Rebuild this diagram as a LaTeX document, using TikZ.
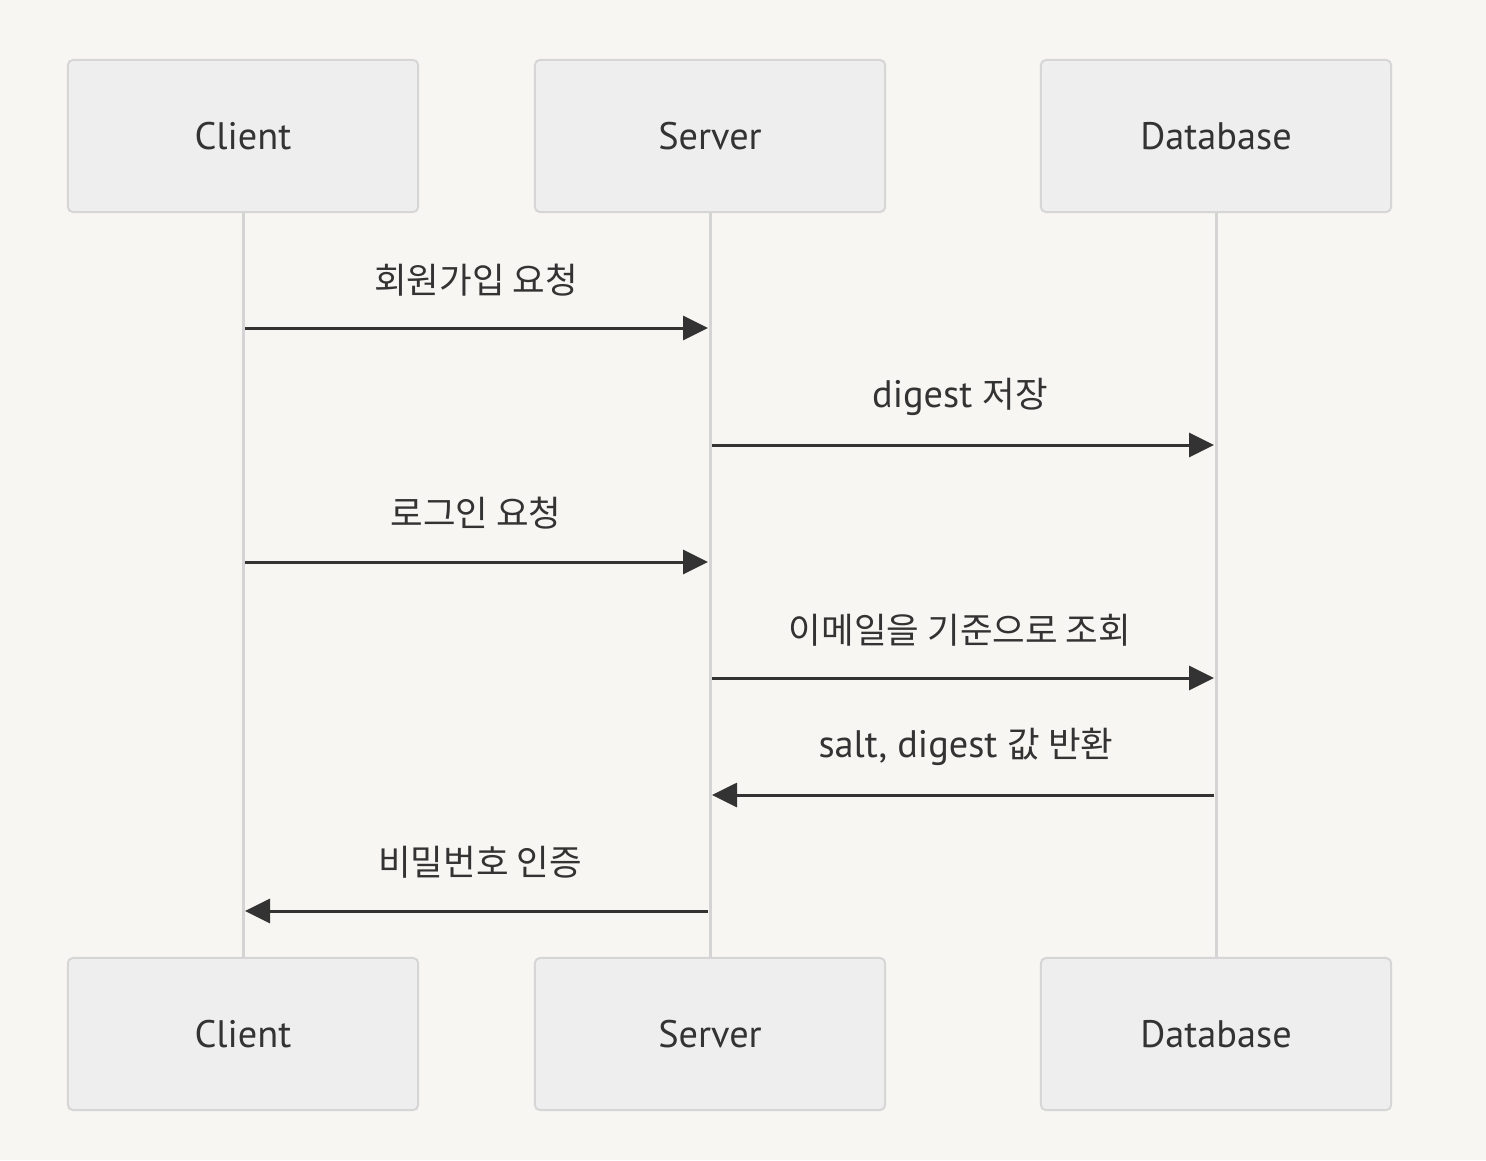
\documentclass[tikz,border=0pt]{standalone}
\usepackage{fontspec}
\setmainfont{PT Sans}
\newfontfamily\ko[Scale=0.925]{Noto Sans CJK KR}
\usetikzlibrary{positioning}
\usetikzlibrary{arrows.meta}
\definecolor{bgcol}{HTML}{F7F6F2}
\definecolor{boxfill}{HTML}{EEEEEE}
\definecolor{boxline}{HTML}{D6D6D6}
\definecolor{lifecol}{HTML}{D4D4D4}
\definecolor{inkcol}{HTML}{333333}
\tikzset{actor/.style={draw=boxline, line width=0.02cm, fill=boxfill, rounded corners=0.05cm,
    minimum width=3.5cm, minimum height=1.52cm, inner sep=0pt, text=inkcol, font=\fontsize{10.9}{12}\selectfont},
  life/.style={draw=lifecol, line width=0.03cm},
  msg/.style={draw=inkcol, line width=0.03cm, -{Triangle[length=0.25cm,width=0.24cm]}},
  msglabel/.style={text=inkcol, font=\fontsize{10.9}{12}\selectfont, inner sep=0pt}}

\begin{document}
\begin{tikzpicture}[x=0.01cm,y=-0.01cm]
\fill[bgcol] (0,0) rectangle (1486,1160);
\useasboundingbox (0,0) rectangle (1486,1160);

\node(CT) at (243,136) [actor] {Client};
\node(ST) at (710,136) [actor] {Server};
\node(DT) at (1216,136) [actor] {Database};
\node(CB) at (243,1034) [actor] {Client};
\node(SB) at (710,1034) [actor] {Server};
\node(DB) at (1216,1034) [actor] {Database};

\draw[life] (CT.south)--(CB.north);
\draw[life] (ST.south)--(SB.north);
\draw[life] (DT.south)--(DB.north);

\coordinate(C1) at (245,328); \coordinate(S1) at (708,328);
\coordinate(S2) at (712,445); \coordinate(D2) at (1214,445);
\coordinate(C3) at (245,562); \coordinate(S3) at (708,562);
\coordinate(S4) at (712,678); \coordinate(D4) at (1214,678);
\coordinate(D5) at (1214,795); \coordinate(S5) at (712,795);
\coordinate(S6) at (708,911); \coordinate(C6) at (245,911);

\draw[msg] (C1)--(S1);
\draw[msg] (S2)--(D2);
\draw[msg] (C3)--(S3);
\draw[msg] (S4)--(D4);
\draw[msg] (D5)--(S5);
\draw[msg] (S6)--(C6);

\node(L1) at (476,280) [msglabel] {\ko 회원가입 요청};
\node(L2) at (960,397) [msglabel] {digest \ko 저장};
\node(L3) at (476,513) [msglabel] {\ko 로그인 요청};
\node(L4) at (960,630) [msglabel] {\ko 이메일을 기준으로 조회};
\node(L5) at (966,747) [msglabel] {salt, digest \ko 값 반환};
\node(L6) at (480,862) [msglabel] {\ko 비밀번호 인증};
\end{tikzpicture}
\end{document}
